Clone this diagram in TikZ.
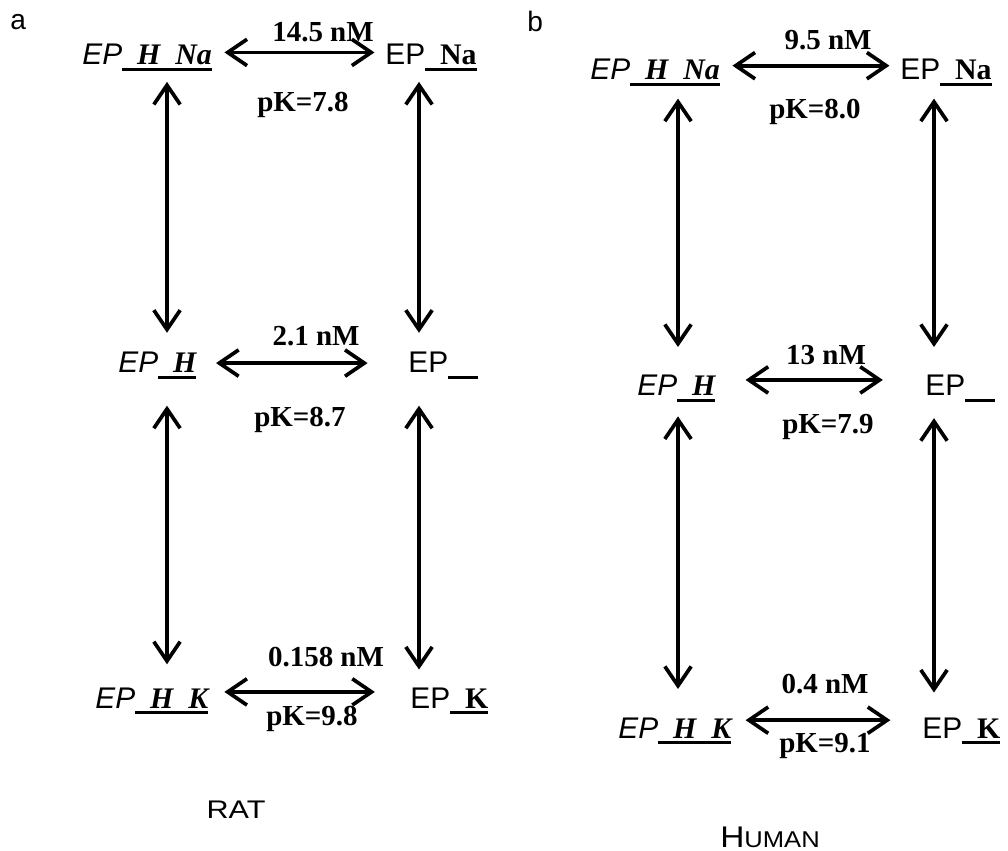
\documentclass[tikz,border=0pt]{standalone}
\usepackage{fontspec}
\setmainfont{Liberation Serif}
\setsansfont{Liberation Sans}
\usetikzlibrary{arrows.meta}

\newcommand{\usc}{\hspace{0.5em}}
\newcommand{\ubar}[1]{\setbox0=\hbox{#1}\leavevmode\rlap{\rule[-3.4pt]{\wd0}{1.5pt}}\box0}
\newcommand{\epL}[1]{{\sffamily\itshape EP}\ubar{\bfseries\itshape #1}}
\newcommand{\epR}[1]{{\sffamily EP}\ubar{\bfseries #1}}

\tikzset{
    species/.style={inner sep=0pt, anchor=base west, font=\fontsize{17}{20}\selectfont},
    rate/.style={inner sep=0pt, anchor=base, font=\fontsize{16.5}{19}\selectfont\bfseries},
    panel/.style={inner sep=0pt, anchor=base west, font=\fontsize{16}{19}\selectfont\sffamily},
    eqarrow/.style={line width=2.1pt, {Straight Barb[length=11pt,width=15pt]}-{Straight Barb[length=11pt,width=15pt]}},
}

\begin{document}
\begin{tikzpicture}[x=0.02cm, y=-0.02cm]
    \useasboundingbox (0,0) rectangle (1008,851);
    % columns of the vertical arrows
    \coordinate (rcL) at (167,0);
    \coordinate (rcR) at (419,0);
    \coordinate (hcL) at (678,0);
    \coordinate (hcR) at (934,0);
    % panel a (rat)
    \node[panel] (la) at (10,30) {a};
    \node[species] (rHNa) at (82,65) {\epL{\usc H\usc Na}};
    \node[species] (rNa) at (385,65) {\epR{\usc Na}};
    \node[species] (rH) at (118,373) {\epL{\usc H}};
    \node[species] (r0) at (408,373) {\epR{\usc\usc}};
    \node[species] (rHK) at (95,708) {\epL{\usc H\usc K}};
    \node[species] (rK) at (410,708) {\epR{\usc K}};
    \node[rate] (rk1) at (323,42) {14.5 nM};
    \node[rate] (rp1) at (303,112) {pK=7.8};
    \node[rate] (rk2) at (316,346) {2.1 nM};
    \node[rate] (rp2) at (300,426) {pK=8.7};
    \node[rate] (rk3) at (326,666) {0.158 nM};
    \node[rate] (rp3) at (312,725) {pK=9.8};
    \node[inner sep=0pt, anchor=base, font=\fontsize{14.5}{17}\selectfont\sffamily] (rat) at (236,818) {\scalebox{1.2}[1]{RAT}};
    % panel b (human)
    \node[panel] (lb) at (527,32) {b};
    \node[species] (hHNa) at (590,80) {\epL{\usc H\usc Na}};
    \node[species] (hNa) at (900,80) {\epR{\usc Na}};
    \node[species] (hH) at (637,396) {\epL{\usc H}};
    \node[species] (h0) at (925,396) {\epR{\usc\usc}};
    \node[species] (hHK) at (618,738) {\epL{\usc H\usc K}};
    \node[species] (hK) at (922,738) {\epR{\usc K}};
    \node[rate] (hk1) at (828,50) {9.5 nM};
    \node[rate] (hp1) at (815,119) {pK=8.0};
    \node[rate] (hk2) at (826,364) {13 nM};
    \node[rate] (hp2) at (828,433) {pK=7.9};
    \node[rate] (hk3) at (825,693) {0.4 nM};
    \node[rate] (hp3) at (825,752) {pK=9.1};
    \node[inner sep=0pt, anchor=base, font=\sffamily] (human) at (770,847) {\scalebox{1.12}[1]{{\fontsize{17}{20}\selectfont H}{\fontsize{13}{15}\selectfont UMAN}}};
    % horizontal equilibria
    \foreach \a/\b/\dy/\sa/\sb in {rHNa/rNa/3/7/6, rH/r0/1.5/11/23, rHK/rK/5/9/20,
                                  hHNa/hNa/4/7/6, hH/h0/5/17/24, hHK/hK/6/8/18}
        \draw[eqarrow, shorten <=\sa pt, shorten >=\sb pt] ([yshift=\dy pt]\a.east) -- ([yshift=\dy pt]\b.west);
    % vertical equilibria
    \foreach \a/\b/\c/\sa/\sb in {rHNa/rH/rcL/6/11, rH/rHK/rcL/15/13, rNa/r0/rcR/6/11, r0/rK/rcR/15/10,
                                  hHNa/hH/hcL/7/16, hH/hHK/hcL/8/16, hNa/h0/hcR/7/16, h0/hK/hcR/9/14}
        \draw[eqarrow, shorten <=\sa pt, shorten >=\sb pt] (\a.south -| \c) -- (\b.north -| \c);
\end{tikzpicture}
\end{document}
